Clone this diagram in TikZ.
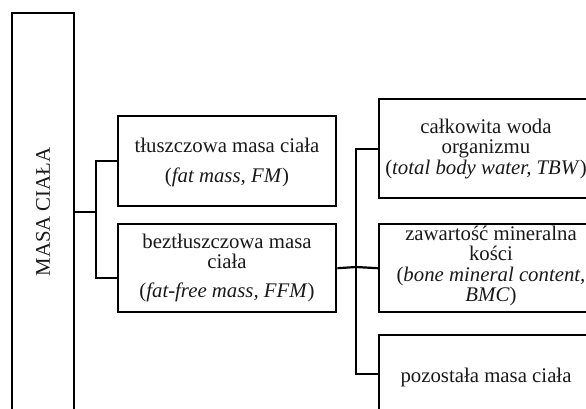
\documentclass[tikz,border=0pt]{standalone}
\usepackage{fontspec}
\setmainfont{Liberation Serif}
\usetikzlibrary{calc}
\tikzset{
  box/.style={draw=black, line width=2.4pt, rectangle, inner sep=0pt, anchor=north west},
  conn/.style={draw=black, line width=2.2pt},
  txt/.style={anchor=base, align=center, inner sep=0pt, font=\fontsize{20.8}{20.5}\selectfont, text=black!90}
}
\begin{document}
\begin{tikzpicture}[x=1pt,y=-1pt]
\useasboundingbox (0,0) rectangle (586,408);
% root
\node[draw=black, line width=2.4pt, rectangle, inner sep=0pt, rotate=90,
      minimum width=398pt, minimum height=62pt, text=black!90,
      font=\fontsize{20.8}{20.5}\selectfont] (root) at (43,212) {MASA CIAŁA};
% boxes
\node[box, minimum width=218pt, minimum height=90pt] (fm) at (117,115) {};
\node[box, minimum width=218pt, minimum height=88pt] (ffm) at (117,223) {};
\node[box, minimum width=222pt, minimum height=99pt] (tbw) at (378,98) {};
\node[box, minimum width=222pt, minimum height=88pt] (bmc) at (378,223) {};
\node[box, minimum width=222pt, minimum height=78pt] (poz) at (378,334) {};
% texts (anchored at the baseline of the last line)
\node[txt] (fmtext) at (227,182.7) {tłuszczowa masa ciała\\[9.5pt](\textit{fat mass, FM})};
\node[txt] (ffmtext) at (227,297) {beztłuszczowa masa\\ciała\\[8pt](\textit{fat-free mass, FFM})};
\node[txt] (tbwtext) at (486,174) {całkowita woda\\organizmu\\(\textit{total body water, TBW})};
\node[txt] (bmctext) at (491,301.5) {zawartość mineralna\\kości\\(\textit{bone mineral content,}\\\textit{BMC})};
\node[txt] (poztext) at (486,382) {pozostała masa ciała};
% connectors
\coordinate (j1) at (96,212);
\coordinate (j2) at (356,267);
\draw[conn] (root.south) -- (j1);
\draw[conn] (fm.west) -| (j1) |- ($(ffm.west)+(0,10)$);
\draw[conn] (ffm.east) -- (j2) -- (bmc.west);
\draw[conn] (tbw.west) -| (j2) |- (poz.west);
\end{tikzpicture}
\end{document}
